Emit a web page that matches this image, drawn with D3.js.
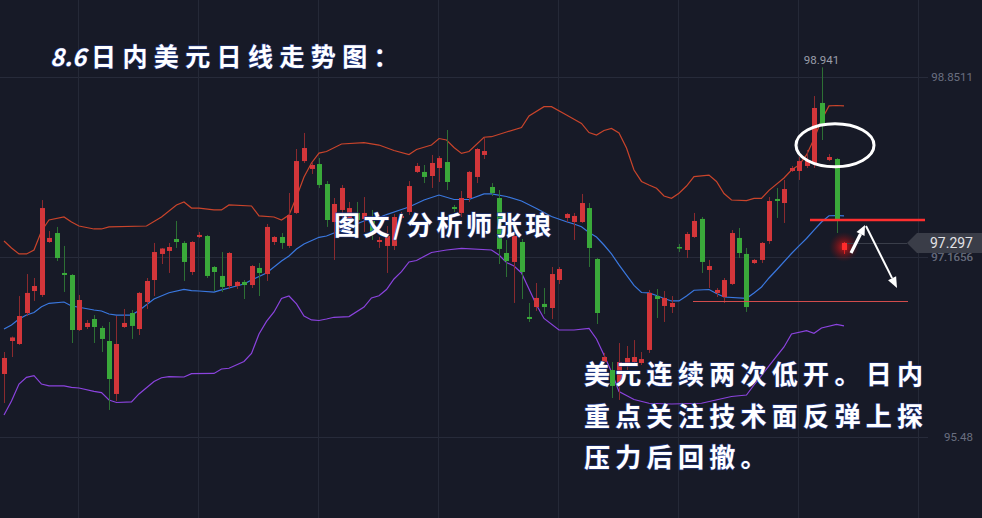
<!DOCTYPE html>
<html><head><meta charset="utf-8">
<script src="https://cdn.jsdelivr.net/npm/d3@7"></script>
<style>
html,body{margin:0;padding:0;background:#171a27;}
svg{display:block;}
</style></head><body>
<svg id="chart" width="982" height="518"></svg>
<script>
// ---- data ----
const opens = [96.070,96.379,96.351,96.641,96.847,96.810,97.306,97.390,97.016,96.997,
96.482,96.510,96.585,96.501,96.379,95.883,96.510,96.641,96.491,96.744,
96.950,97.194,97.222,97.334,97.297,97.025,97.353,97.362,97.072,96.988,
96.894,96.894,96.932,96.903,97.063,97.006,97.306,97.353,97.269,97.578,
98.064,97.990,98.036,97.849,97.493,97.606,97.493,97.578,97.522,97.503,
97.306,97.269,97.269,97.531,97.587,97.962,97.962,97.924,97.999,98.055,
97.634,97.578,97.718,97.915,98.121,97.821,97.718,97.203,97.119,97.306,
96.604,96.697,96.726,96.688,96.950,97.531,97.493,97.493,97.624,97.147,
96.182,96.107,95.986,96.164,96.182,96.173,96.295,96.800,96.707,96.697,
97.259,97.231,97.353,97.522,97.044,96.829,96.791,96.913,97.344,97.194,
97.109,97.138,97.315,97.709,97.671,97.971,97.971,98.018,98.046,98.608,
98.074,98.083,97.231];
const highs = [96.276,96.421,96.800,97.006,96.969,97.699,97.409,97.447,97.269,97.006,
96.810,96.576,96.622,96.520,96.557,96.613,96.679,96.669,96.838,96.969,
97.297,97.250,97.297,97.503,97.315,97.315,97.400,97.372,97.081,97.212,
97.212,96.941,96.950,97.091,97.109,97.475,97.362,97.390,97.765,98.177,
98.327,98.055,98.092,97.877,97.718,97.840,97.681,97.681,97.727,97.606,
97.353,97.456,97.568,97.587,97.877,98.046,98.027,98.121,98.111,98.355,
97.653,97.784,97.971,98.186,98.280,97.858,97.793,97.325,97.400,97.334,
96.735,96.922,96.875,97.072,97.072,97.578,97.578,97.756,97.671,97.156,
96.267,96.182,96.360,96.332,96.388,96.276,96.857,96.866,96.847,96.800,
97.288,97.400,97.578,97.540,97.138,96.875,96.969,97.418,97.437,97.250,
97.147,97.306,97.727,97.812,97.887,98.018,98.102,98.168,98.673,98.941,
98.130,98.092,97.306];
const lows = [95.798,96.229,96.342,96.613,96.754,96.791,97.297,97.128,96.838,96.360,
96.473,96.491,96.360,96.276,95.733,95.817,96.501,96.398,96.435,96.679,
96.800,97.100,97.016,97.250,96.941,96.997,97.344,96.969,96.847,96.838,
96.866,96.866,96.772,96.875,96.800,96.941,97.278,97.241,97.250,97.568,
98.046,97.943,97.812,97.447,97.138,97.418,97.400,97.400,97.400,97.325,
97.250,97.016,97.231,97.493,97.559,97.952,97.858,97.812,97.868,97.793,
97.587,97.540,97.681,97.858,98.083,97.737,97.100,96.978,96.735,96.772,
96.557,96.660,96.632,96.585,96.913,97.493,97.325,97.484,97.072,96.538,
96.145,95.845,95.827,96.107,96.145,96.154,96.267,96.594,96.557,96.641,
97.212,97.156,97.344,97.016,96.875,96.791,96.735,96.903,97.156,96.651,
97.100,97.109,97.288,97.531,97.484,97.962,97.887,97.999,97.999,98.261,
98.064,97.390,97.194];
const closes = [96.220,96.412,96.613,96.829,96.894,97.624,97.344,97.156,96.997,96.482,
96.763,96.548,96.510,96.398,96.023,96.351,96.548,96.520,96.829,96.941,
97.212,97.245,97.259,97.306,97.119,97.306,97.372,96.988,97.025,96.885,
97.203,96.932,96.903,97.081,97.016,97.447,97.353,97.297,97.559,98.064,
98.186,98.027,97.840,97.512,97.662,97.812,97.624,97.512,97.578,97.400,
97.325,97.362,97.540,97.550,97.830,98.018,97.915,98.046,98.092,97.868,
97.615,97.718,97.962,98.177,98.158,97.765,97.241,97.128,97.362,97.025,
96.585,96.782,96.697,97.006,97.053,97.568,97.550,97.671,97.250,96.641,
96.229,95.958,96.182,96.220,96.229,96.210,96.829,96.772,96.782,96.735,
97.250,97.381,97.503,97.119,97.081,96.857,96.950,97.390,97.203,96.697,
97.138,97.297,97.690,97.690,97.802,97.999,98.064,98.074,98.561,98.401,
98.102,97.512,97.297];

// Bollinger bands: [candle index, value]
const upperBand = [[0,97.315],[1,97.250],[2,97.194],[3,97.194],[4,97.231],[5,97.409],[6,97.512],[8,97.540],[9,97.493],[10,97.456],[12,97.428],[13,97.428],[14,97.447],[19,97.456],[21,97.540],[23,97.653],[24,97.681],[25,97.624],[26,97.624],[28,97.606],[29,97.606],[30,97.653],[33,97.643],[34,97.550],[36,97.540],[37,97.512],[38,97.559],[39,97.727],[40,97.915],[41,98.046],[42,98.139],[43,98.153],[45,98.224],[48,98.236],[50,98.214],[52,98.163],[54,98.125],[55,98.172],[57,98.214],[58,98.275],[59,98.261],[60,98.191],[61,98.136],[62,98.153],[64,98.287],[65,98.292],[67,98.336],[69,98.378],[70,98.486],[72,98.573],[73,98.573],[75,98.495],[77,98.417],[78,98.331],[79,98.308],[80,98.350],[81,98.369],[82,98.327],[83,98.186],[84,97.980],[85,97.873],[86,97.840],[87,97.809],[88,97.737],[89,97.715],[90,97.762],[91,97.830],[92,97.919],[94,97.933],[95,97.873],[96,97.760],[97,97.699],[99,97.693],[100,97.715],[101,97.715],[102,97.790],[104,97.905],[105,97.980],[106,98.027],[107,98.121],[108,98.270],[109,98.448],[110,98.580],[111,98.584],[112,98.580]];
const middleBand = [[0,96.491],[1,96.529],[2,96.585],[3,96.622],[4,96.646],[5,96.700],[6,96.732],[8,96.744],[9,96.707],[10,96.695],[12,96.669],[13,96.660],[14,96.632],[15,96.622],[17,96.622],[18,96.665],[20,96.772],[22,96.831],[24,96.863],[25,96.850],[26,96.847],[28,96.836],[29,96.857],[30,96.875],[32,96.913],[33,96.950],[35,97.016],[37,97.128],[38,97.175],[39,97.241],[40,97.288],[42,97.350],[43,97.362],[45,97.418],[48,97.503],[50,97.535],[51,97.563],[53,97.610],[54,97.634],[56,97.699],[58,97.746],[60,97.704],[62,97.704],[64,97.756],[65,97.756],[67,97.732],[69,97.690],[71,97.620],[73,97.545],[75,97.496],[76,97.475],[77,97.449],[78,97.395],[79,97.353],[80,97.278],[81,97.194],[82,97.091],[84,96.899],[85,96.833],[86,96.829],[87,96.805],[88,96.777],[89,96.754],[90,96.754],[91,96.800],[92,96.854],[94,96.861],[95,96.824],[96,96.791],[99,96.779],[100,96.829],[101,96.885],[102,96.969],[103,97.044],[105,97.198],[106,97.269],[107,97.339],[108,97.418],[109,97.493],[110,97.552],[111,97.554],[112,97.550]];
const lowerBand = [[0,95.686],[1,95.817],[2,95.976],[3,96.039],[4,96.054],[5,95.976],[6,95.958],[8,95.958],[9,95.944],[10,95.939],[12,95.908],[13,95.895],[14,95.827],[15,95.803],[17,95.808],[18,95.883],[20,96.000],[21,96.035],[22,96.045],[24,96.042],[25,96.073],[28,96.075],[29,96.117],[30,96.124],[32,96.187],[33,96.262],[34,96.445],[35,96.562],[36,96.651],[37,96.777],[38,96.800],[39,96.726],[40,96.613],[41,96.576],[42,96.571],[43,96.585],[44,96.601],[46,96.608],[48,96.697],[49,96.782],[50,96.803],[51,96.861],[52,96.960],[53,97.028],[54,97.119],[55,97.133],[57,97.208],[59,97.231],[61,97.247],[65,97.231],[66,97.184],[67,97.114],[68,97.081],[69,97.016],[70,96.866],[71,96.716],[72,96.590],[74,96.482],[76,96.482],[78,96.498],[79,96.398],[80,96.248],[81,96.089],[82,95.906],[84,95.831],[86,95.796],[89,95.789],[93,95.796],[97,95.859],[99,95.873],[100,95.967],[102,96.145],[104,96.323],[105,96.445],[107,96.476],[108,96.451],[109,96.501],[111,96.534],[112,96.520]];

const tickValues = [98.8511, 97.1656, 95.48];
const tickLabels = ["98.8511", "97.1656", "95.48"];
const highLabel = "98.941";
const lastPrice = 97.297;
const supportLevel = 97.512;   // red horizontal line
const lowLevel = 96.754;       // thin horizontal line
const circleLevel = 98.212;    // ellipse centre

const titleNum = "8.6";
const titleText = "日内美元日线走势图：";
const signText = "图文/分析师张琅";
const noteLines = ["美元连续两次低开。日内", "重点关注技术面反弹上探", "压力后回撤。"];

// ---- drawing ----
const W = 982, H = 518;
const svg = d3.select("#chart");
const x = d3.scaleLinear().domain([0, 112]).range([4, 844]);
const y = d3.scaleLinear().domain([95.48, 98.8511]).range([437, 77]);

svg.append("rect").attr("width", W).attr("height", H).attr("fill", "#171a27");

// grid
const grid = svg.append("g");
grid.selectAll("line.h").data(tickValues).join("line")
  .attr("x1", 0).attr("x2", 928)
  .attr("y1", d => Math.round(y(d)) + 0.5).attr("y2", d => Math.round(y(d)) + 0.5)
  .attr("stroke", "#272b3a").attr("stroke-width", 1);
grid.selectAll("line.v").data(d3.range(78, 919, 120)).join("line")
  .attr("x1", d => d + 0.5).attr("x2", d => d + 0.5)
  .attr("y1", 0).attr("y2", H)
  .attr("stroke", "#252937").attr("stroke-width", 1);

// right axis labels
const axis = d3.axisRight(y).tickValues(tickValues).tickSize(0)
  .tickFormat((d, i) => tickLabels[i]);
const ax = svg.append("g").attr("transform", "translate(973,0)").call(axis);
ax.select(".domain").remove();
ax.selectAll("text").attr("x", 0).attr("text-anchor", "end")
  .attr("fill", "#6a6f80").style("font-family", "Roboto, 'DejaVu Sans', sans-serif")
  .style("font-size", "11.5px");

// bands
const line = d3.line().x(d => x(d[0])).y(d => y(d[1]));
svg.append("path").datum(upperBand).attr("d", line).attr("fill", "none")
  .attr("stroke", "#c9442b").attr("stroke-width", 1.2);
svg.append("path").datum(middleBand).attr("d", line).attr("fill", "none")
  .attr("stroke", "#3a78e0").attr("stroke-width", 1.2);
svg.append("path").datum(lowerBand).attr("d", line).attr("fill", "none")
  .attr("stroke", "#8b43de").attr("stroke-width", 1.2);

// glow for last candle
const defs = svg.append("defs");
const rg = defs.append("radialGradient").attr("id", "glow");
rg.append("stop").attr("offset", "0%").attr("stop-color", "#ff1a1a").attr("stop-opacity", 0.75);
rg.append("stop").attr("offset", "55%").attr("stop-color", "#c01010").attr("stop-opacity", 0.35);
rg.append("stop").attr("offset", "100%").attr("stop-color", "#801010").attr("stop-opacity", 0);

const candles = opens.map((o, i) => ({i, o, h: highs[i], l: lows[i], c: closes[i]}));
const last = candles.length - 1;
svg.append("circle").attr("cx", x(last)).attr("cy", y(97.26)).attr("r", 15).attr("fill", "url(#glow)");

// dim price line
svg.append("line").attr("x1", x(last) + 3).attr("x2", 907)
  .attr("y1", Math.round(y(lastPrice)) + 0.5).attr("y2", Math.round(y(lastPrice)) + 0.5)
  .attr("stroke", "#3a3e4a").attr("stroke-width", 1);

const cg = svg.append("g");
const up = d => d.c >= d.o;
cg.selectAll("line.w").data(candles).join("line")
  .attr("x1", d => Math.round(x(d.i)) + 0.5).attr("x2", d => Math.round(x(d.i)) + 0.5)
  .attr("y1", d => y(d.h)).attr("y2", d => y(d.l))
  .attr("stroke", d => d.i === last ? "#d22" : (up(d) ? "#8a2a2e" : "#2d7034"))
  .attr("stroke-width", 1);
cg.selectAll("rect.b").data(candles).join("rect")
  .attr("x", d => Math.round(x(d.i)) - 2)
  .attr("width", 5)
  .attr("y", d => y(Math.max(d.o, d.c)))
  .attr("height", d => Math.max(1.5, Math.abs(y(d.o) - y(d.c))))
  .attr("fill", d => d.i === last ? "#ff2b2b" : (up(d) ? "#d3363a" : "#3aa93a"));

// high label
svg.append("text").attr("x", x(109)).attr("y", y(98.941) - 3)
  .attr("text-anchor", "middle").attr("fill", "#9a9eaa")
  .style("font-family", "Roboto, 'DejaVu Sans', sans-serif").style("font-size", "11.5px")
  .text(highLabel);

// thin horizontal line
svg.append("line").attr("x1", 693).attr("x2", 908)
  .attr("y1", Math.round(y(lowLevel)) + 0.5).attr("y2", Math.round(y(lowLevel)) + 0.5)
  .attr("stroke", "#d24c4c").attr("stroke-width", 1);

// red support line
svg.append("line").attr("x1", 810).attr("x2", 925)
  .attr("y1", y(supportLevel)).attr("y2", y(supportLevel))
  .attr("stroke", "#ff2f2f").attr("stroke-width", 2.5);

// ellipse
svg.append("ellipse").attr("cx", 835).attr("cy", y(circleLevel)).attr("rx", 39).attr("ry", 21.5)
  .attr("fill", "none").attr("stroke", "#ffffff").attr("stroke-width", 3);

// arrows
function arrow(x1, y1, x2, y2, sw, hl, hw) {
  const a = Math.atan2(y2 - y1, x2 - x1);
  const bx = x2 - hl * Math.cos(a), by = y2 - hl * Math.sin(a);
  svg.append("line").attr("x1", x1).attr("y1", y1).attr("x2", bx).attr("y2", by)
    .attr("stroke", "#fff").attr("stroke-width", sw);
  const px = -Math.sin(a) * hw, py = Math.cos(a) * hw;
  svg.append("polygon")
    .attr("points", `${x2},${y2} ${bx + px},${by + py} ${bx - px},${by - py}`)
    .attr("fill", "#fff");
}
arrow(851, 253, 865, 225, 3.2, 10, 4.5);
arrow(866, 226, 897, 288, 2, 11, 4.5);

// price label
svg.append("text").attr("x", 973).attr("y", y(tickValues[1]) + 4).attr("text-anchor", "end")
  .attr("fill", "#5f6475").style("font-family", "Roboto, 'DejaVu Sans', sans-serif").style("font-size", "11.5px")
  .text(tickLabels[1]);
const py0 = y(lastPrice);
svg.append("polygon")
  .attr("points", `907,${py0} 917,${py0 - 10} 982,${py0 - 10} 982,${py0 + 10} 917,${py0 + 10}`)
  .attr("fill", "#3a3d48");
svg.append("text").attr("x", 973).attr("y", py0 + 5).attr("text-anchor", "end")
  .attr("fill", "#e2e2e6").style("font-family", "Roboto, 'DejaVu Sans', sans-serif").style("font-size", "14px")
  .text(lastPrice.toFixed(3));

// handwritten-style annotation text
const cjk = "'Noto Sans CJK SC', 'Noto Sans CJK JP', sans-serif";
function label(t, x0, y0, size, spacing, style) {
  const el = svg.append("text").attr("x", x0).attr("y", y0)
    .attr("fill", "#ffffff").attr("stroke", "#233a8c").attr("stroke-width", 1.2)
    .style("paint-order", "stroke")
    .style("font-family", cjk).style("font-weight", "700")
    .style("font-size", size + "px").style("letter-spacing", spacing + "px")
    .text(t);
  if (style) el.style("font-style", style);
  return el;
}
label(titleNum, 50, 66, 24, 0, "italic");
label(titleText, 91, 66, 25, 6.4);
label(signText, 334, 235, 26, 3.6);
noteLines.forEach((t, k) => label(t, 584, 384 + k * 41.5, 26, 5.3));
</script>
</body></html>
